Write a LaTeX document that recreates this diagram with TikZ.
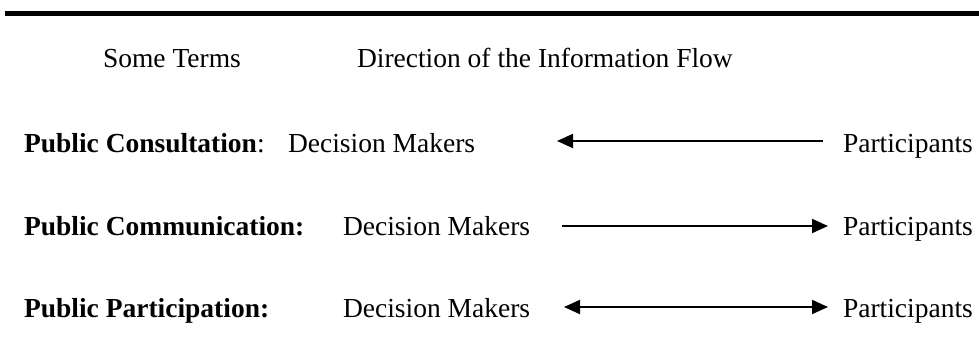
\documentclass[tikz,border=0pt]{standalone}
\usepackage{fontspec}
\setmainfont{Liberation Serif}
\usetikzlibrary{arrows.meta}
\begin{document}
\begin{tikzpicture}[x=1pt, y=-1pt, line width=2pt,
  every node/.style={font=\fontsize{27.5}{33}\selectfont, inner sep=0pt, anchor=base west},
  flow/.style={-{Triangle[length=16pt, width=14pt]}},
  bothways/.style={{Triangle[length=16pt, width=14pt]}-{Triangle[length=16pt, width=14pt]}}]
  \useasboundingbox (0,0) rectangle (979,345);
  \draw[line width=5pt] (5,13.5) -- (979,13.5);
  \node (terms) at (102,67) {Some Terms};
  \node (dir) at (356,67) {Direction of the Information Flow};
  % three terms, one row each
  \node (cons) at (23,152) {\textbf{Public Consultation}:};
  \node (comm) at (23,235) {\textbf{Public Communication:}};
  \node (part) at (23,317) {\textbf{Public Participation:}};
  \node (dm1) at (287,152) {Decision Makers};
  \node (dm2) at (342,235) {Decision Makers};
  \node (dm3) at (342,317) {Decision Makers};
  \node (p1) at (842,152) {Participants};
  \node (p2) at (842,235) {Participants};
  \node (p3) at (842,317) {Participants};
  \coordinate (a1) at (557,141); \coordinate (b1) at (823,141);
  \coordinate (a2) at (562,226); \coordinate (b2) at (828,226);
  \coordinate (a3) at (564,307); \coordinate (b3) at (828,307);
  \draw[flow] (b1) -- (a1);
  \draw[flow] (a2) -- (b2);
  \draw[bothways] (a3) -- (b3);
\end{tikzpicture}
\end{document}
